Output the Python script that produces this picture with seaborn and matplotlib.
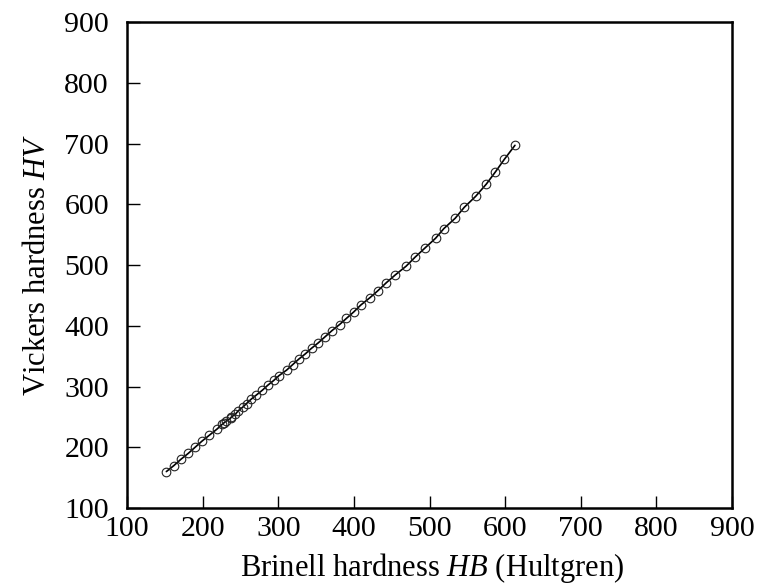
import matplotlib
matplotlib.use("Agg")
import matplotlib.pyplot as plt
import seaborn as sns
import pandas as pd

# Brinell hardness HB (Hultgren ball) and Vickers hardness HV
hb_low = [152, 162, 171, 181, 190, 199, 209, 219, 228, 238]
hv_low = [160, 170, 180, 190, 200, 210, 220, 230, 240, 250]

hb_high = [226, 231, 237, 243, 247, 253, 258, 264, 271, 279, 286, 294, 301, 311,
           319, 327, 336, 344, 353, 362, 371, 381, 390, 400, 409, 421, 432, 443,
           455, 469, 481, 494, 508, 519, 534, 546, 561, 575, 587, 599, 613]
hv_high = [238, 243, 248, 254, 260, 266, 272, 279, 286, 294, 302, 310, 318, 327,
           336, 345, 354, 363, 372, 382, 392, 402, 412, 423, 434, 446, 458, 471,
           484, 498, 513, 528, 544, 560, 577, 595, 613, 633, 653, 674, 697]

x_ticks = [100, 200, 300, 400, 500, 600, 700, 800, 900]
y_ticks = [100, 200, 300, 400, 500, 600, 700, 800, 900]

df = pd.DataFrame({"HB": hb_low + hb_high, "HV": hv_low + hv_high}).sort_values("HB")

sns.set_style("ticks")
plt.rcParams["font.family"] = ["Liberation Serif", "DejaVu Serif"]
plt.rcParams["mathtext.fontset"] = "custom"
plt.rcParams["mathtext.rm"] = "Liberation Serif"
plt.rcParams["mathtext.it"] = "Liberation Serif:italic"
plt.rcParams["text.color"] = "black"
plt.rcParams["axes.labelcolor"] = "black"
plt.rcParams["xtick.color"] = "black"
plt.rcParams["ytick.color"] = "black"

fig = plt.figure(figsize=(7.7, 5.88), dpi=100)
ax = fig.add_axes([0.165, 0.136, 0.7856, 0.8266])

sns.lineplot(data=df, x="HB", y="HV", sort=True, ax=ax, color="black", linewidth=1.2,
             marker="o", markersize=6.2, markerfacecolor="none",
             markeredgecolor="#222222", markeredgewidth=0.8, estimator=None)

ax.set_xlim(100, 900)
ax.set_ylim(100, 900)
ax.set_xticks(x_ticks)
ax.set_yticks(y_ticks)
ax.tick_params(direction="in", length=9, width=1.0, labelsize=21.5, colors="black")
ax.tick_params(axis="y", pad=13)
ax.tick_params(axis="x", pad=6)
for s in ax.spines.values():
    s.set_linewidth(1.8)
    s.set_color("black")
ax.set_xlabel("Brinell hardness $HB$ (Hultgren)", fontsize=22, color="black")
ax.set_ylabel("Vickers hardness $HV$", fontsize=22, labelpad=9, color="black")
ax.xaxis.set_label_coords(0.505, -0.088)

fig.savefig("out.png", dpi=100)
